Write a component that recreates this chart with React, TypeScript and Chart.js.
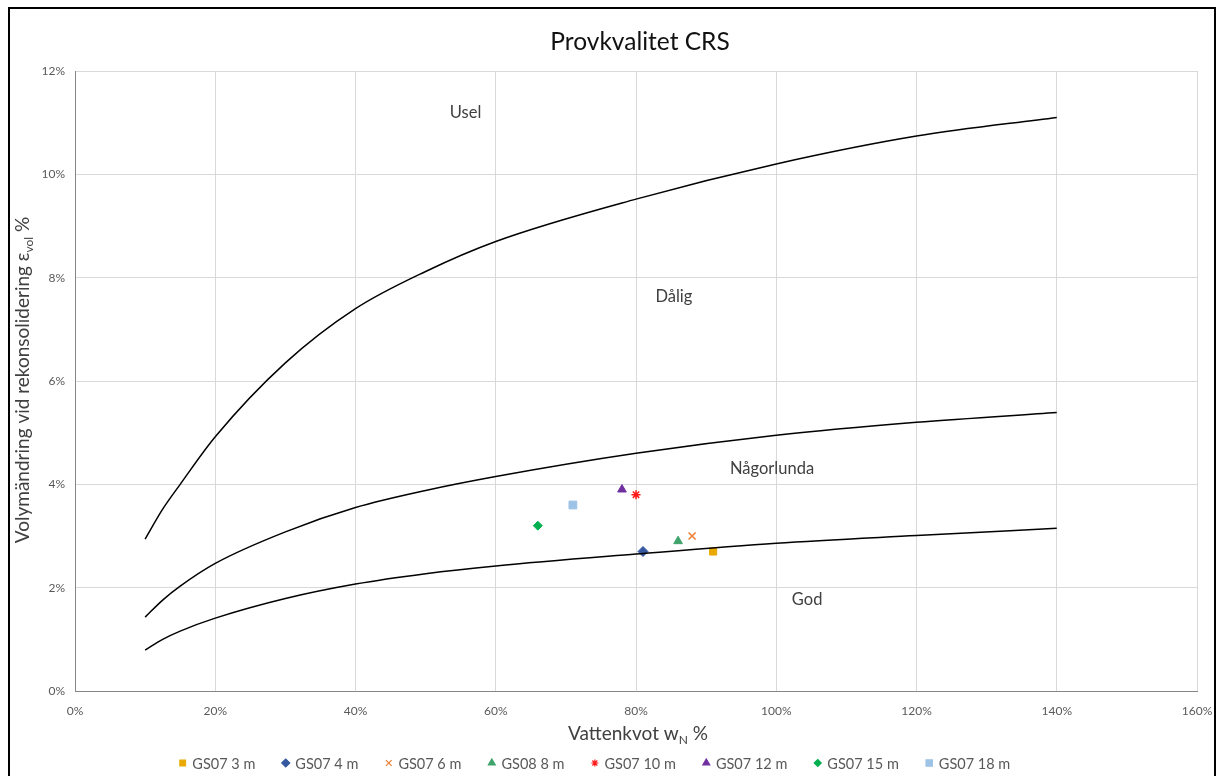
import React, { useEffect, useRef } from 'react';
import { Chart, registerables } from 'chart.js';
import { drawPoint } from 'chart.js/helpers';

Chart.register(...registerables);

// Boundary curves between the quality classes (x = water content %, y = volume change %)
const USEL_W = [10, 12.5, 15, 20, 30, 40, 50, 60, 80, 100, 120, 140];
const USEL_E = [2.94, 3.52, 4.0, 4.92, 6.35, 7.4, 8.12, 8.7, 9.52, 10.2, 10.74, 11.1];

const DALIG_W = [10, 12.5, 15, 20, 30, 40, 50, 60, 80, 100, 120, 140];
const DALIG_E = [1.43, 1.76, 2.03, 2.47, 3.08, 3.55, 3.88, 4.15, 4.6, 4.95, 5.2, 5.39];

const GOD_W = [10, 12.5, 15, 20, 30, 40, 50, 60, 80, 100, 120, 140];
const GOD_E = [0.79, 1.0, 1.16, 1.41, 1.79, 2.07, 2.27, 2.42, 2.65, 2.86, 3.01, 3.15];

// Samples
const SAMPLE_NAMES = ['GS07 3 m', 'GS07 4 m', 'GS07 6 m', 'GS08 8 m', 'GS07 10 m', 'GS07 12 m', 'GS07 15 m', 'GS07 18 m'];
const SAMPLE_W = [91, 81, 88, 86, 80, 78, 66, 71];
const SAMPLE_E = [2.7, 2.7, 3.0, 2.9, 3.8, 3.9, 3.2, 3.6];

// Marker styling per sample
const SAMPLE_COLORS = ['#E9A900', '#3559A0', '#ED7D31', '#3FA36C', '#FF1A1A', '#7030A0', '#00B050', '#9DC3E6'];
const SAMPLE_SHAPES = ['rect', 'rectRot', 'crossRot', 'triangle', 'star', 'triangle', 'rectRot', 'rect'];
const SAMPLE_RADII = [5, 5, 5, 5, 4.5, 5, 4.5, 5.5];

// Class names written inside the zones
const ZONE_NAMES = ['Usel', 'Dålig', 'Någorlunda', 'God'];
const ZONE_W = [55.7, 85.4, 99.4, 104.4];
const ZONE_E = [11.2, 7.63, 4.3, 1.76];

const FONT = 'Lato, "Open Sans", sans-serif';
const TEXT = '#404040';
const TICK = '#595959';

function zip(xs: number[], ys: number[]) {
  return xs.map((x, i) => ({ x, y: ys[i] }));
}

const decorations = {
  id: 'decorations',
  afterDraw(chart: any) {
    const { ctx, chartArea, scales } = chart;
    const cx = (chartArea.left + chartArea.right) / 2;
    ctx.save();

    // Title
    ctx.fillStyle = '#111111';
    ctx.font = `24.5px ${FONT}`;
    ctx.textAlign = 'center';
    ctx.textBaseline = 'middle';
    ctx.fillText('Provkvalitet CRS', cx + 4, 33);

    // Zone names
    ctx.fillStyle = TEXT;
    ctx.font = `16.5px ${FONT}`;
    ZONE_NAMES.forEach((name, i) => {
      ctx.fillText(name, scales.x.getPixelForValue(ZONE_W[i]), scales.y.getPixelForValue(ZONE_E[i]));
    });

    // Text run with a subscript part
    const drawRuns = (runs: { t: string; sub?: boolean }[], x: number, y: number, size: number) => {
      const big = `${size}px ${FONT}`;
      const small = `${Math.round(size * 0.62)}px ${FONT}`;
      let total = 0;
      runs.forEach((r) => {
        ctx.font = r.sub ? small : big;
        total += ctx.measureText(r.t).width;
      });
      let px = x - total / 2;
      ctx.textAlign = 'left';
      ctx.textBaseline = 'alphabetic';
      runs.forEach((r) => {
        ctx.font = r.sub ? small : big;
        ctx.fillText(r.t, px, y + (r.sub ? 4 : 0));
        px += ctx.measureText(r.t).width;
      });
    };

    ctx.fillStyle = TEXT;
    // x-axis title
    drawRuns([{ t: 'Vattenkvot w' }, { t: 'N', sub: true }, { t: ' %' }], cx + 2, 731, 19);

    // y-axis title
    ctx.save();
    ctx.translate(19, 371);
    ctx.rotate(-Math.PI / 2);
    drawRuns([{ t: 'Volymändring vid rekonsolidering ' }, { t: 'ε' }, { t: 'vol', sub: true }, { t: ' %' }], 0, 0, 19);
    ctx.restore();

    // Legend
    ctx.font = `14.5px ${FONT}`;
    ctx.textBaseline = 'middle';
    ctx.textAlign = 'left';
    let mx = 172.7;
    const ly = 754;
    SAMPLE_NAMES.forEach((name, i) => {
      const color = SAMPLE_COLORS[i];
      ctx.fillStyle = color;
      ctx.strokeStyle = color;
      ctx.lineWidth = 1.2;
      drawPoint(ctx, { pointStyle: SAMPLE_SHAPES[i], radius: SAMPLE_RADII[i] - 1, rotation: 0, borderWidth: 1 } as any, mx, ly);
      ctx.fillStyle = TICK;
      ctx.fillText(name, mx + 9.6, ly + 1);
      mx += 9.6 + ctx.measureText(name).width + 30.4;
    });

    ctx.restore();
  },
};

export default function App() {
  const ref = useRef<HTMLCanvasElement>(null);

  useEffect(() => {
    const canvas = ref.current;
    if (!canvas) return;

    const curve = (data: number[][]) => ({
      data: zip(data[0], data[1]),
      showLine: true,
      borderColor: '#000000',
      borderWidth: 1.5,
      pointRadius: 0,
      pointHoverRadius: 0,
      cubicInterpolationMode: 'monotone' as const,
      fill: false,
    });

    const samples = SAMPLE_NAMES.map((name, i) => {
      const lineLike = SAMPLE_SHAPES[i] === 'crossRot' || SAMPLE_SHAPES[i] === 'star';
      return {
        label: name,
        data: [{ x: SAMPLE_W[i], y: SAMPLE_E[i] }],
        showLine: false,
        pointStyle: SAMPLE_SHAPES[i],
        pointRadius: SAMPLE_RADII[i],
        backgroundColor: SAMPLE_COLORS[i],
        borderColor: SAMPLE_COLORS[i],
        borderWidth: lineLike ? 1.5 : 1,
      };
    });

    const chart = new Chart(canvas, {
      type: 'scatter',
      data: {
        datasets: [
          curve([USEL_W, USEL_E]),
          curve([DALIG_W, DALIG_E]),
          curve([GOD_W, GOD_E]),
          ...samples,
        ] as any,
      },
      options: {
        animation: false,
        responsive: false,
        events: [],
        layout: { padding: { top: 62, right: 17, left: 0, bottom: 0 } },
        plugins: {
          legend: { display: false },
          title: { display: false },
          tooltip: { enabled: false },
        },
        scales: {
          x: {
            type: 'linear',
            min: 0,
            max: 160,
            afterFit: (s: any) => {
              s.height = 85;
              s.paddingLeft = 0;
              s.paddingRight = 0;
            },
            ticks: {
              stepSize: 20,
              padding: 13,
              color: TICK,
              font: { family: FONT, size: 12 },
              callback: (v: any) => `${v}%`,
            },
            grid: { color: '#d9d9d9', drawTicks: false, lineWidth: 1 },
            border: { color: '#868686', width: 1 },
          },
          y: {
            type: 'linear',
            min: 0,
            max: 12,
            afterFit: (s: any) => {
              s.width = 65;
              s.paddingTop = 0;
              s.paddingBottom = 0;
            },
            ticks: {
              stepSize: 2,
              padding: 10,
              color: TICK,
              font: { family: FONT, size: 12 },
              callback: (v: any) => `${v}%`,
            },
            grid: { color: '#d9d9d9', drawTicks: false, lineWidth: 1 },
            border: { color: '#868686', width: 1 },
          },
        },
      },
      plugins: [decorations],
    });

    return () => chart.destroy();
  }, []);

  return (
    <div
      style={{
        position: 'absolute',
        left: 8,
        top: 7,
        width: 1208,
        height: 769,
        borderTop: '2px solid #000',
        borderLeft: '2px solid #000',
        borderRight: '2px solid #000',
        boxSizing: 'border-box',
        background: '#fff',
        overflow: 'hidden',
      }}
    >
      <canvas ref={ref} width={1204} height={767} style={{ display: 'block' }} />
    </div>
  );
}
